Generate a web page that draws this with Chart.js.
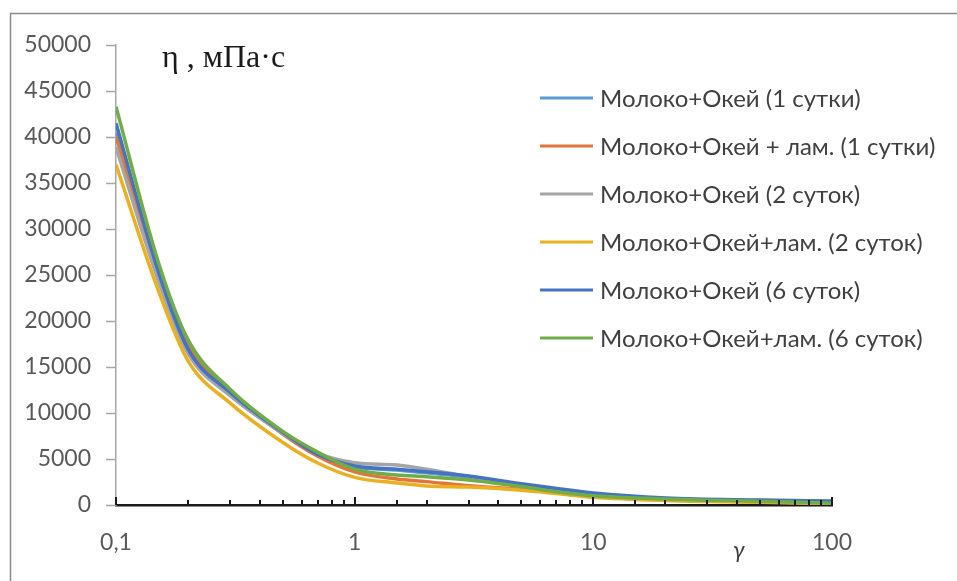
<!DOCTYPE html>
<html>
<head>
<meta charset="utf-8">
<script src="https://cdn.jsdelivr.net/npm/chart.js@4"></script>
<style>
  html, body { margin: 0; padding: 0; background: #fff; }
  #wrap { width: 957px; height: 581px; }
</style>
</head>
<body>
<div id="wrap"><canvas id="chart" width="957" height="581"></canvas></div>
<script>
// shear rate values (log axis)
const shearRates = [0.1, 0.15, 0.2, 0.3, 0.5, 0.7, 1, 1.5, 2, 3, 5, 7, 10, 20, 50, 100];

// viscosity, mPa·s
const okei1 = [40500, 25000, 16800, 12000, 7800, 5400, 4150, 3800, 3500, 3050, 2200, 1700, 1200, 700, 480, 350];
const okeiLam1 = [40000, 25500, 17500, 12400, 7700, 5300, 3600, 2830, 2540, 2100, 1700, 1300, 900, 550, 350, 200];
const okei2 = [38900, 24500, 16500, 11900, 7800, 5650, 4600, 4350, 3900, 3100, 2150, 1600, 1150, 650, 420, 280];
const okeiLam2 = [37000, 23400, 15700, 11100, 6800, 4560, 3000, 2390, 2070, 1950, 1600, 1250, 850, 500, 300, 150];
const okei6 = [41500, 25500, 17000, 12250, 7900, 5500, 4240, 3900, 3620, 3150, 2300, 1800, 1300, 760, 540, 430];
const okeiLam6 = [43300, 26500, 18000, 12600, 8000, 5750, 3900, 3260, 3080, 2720, 2000, 1450, 1000, 650, 400, 200];

const seriesLabels = [
  'Молоко+Окей (1 сутки)',
  'Молоко+Окей + лам. (1 сутки)',
  'Молоко+Окей (2 суток)',
  'Молоко+Окей+лам. (2 суток)',
  'Молоко+Окей (6 суток)',
  'Молоко+Окей+лам. (6 суток)'
];
const seriesValues = [okei1, okeiLam1, okei2, okeiLam2, okei6, okeiLam6];
const colors = ['#5B9BD5', '#E0763A', '#A5A5A5', '#EAB020', '#4472C4', '#70AD47'];

const yMax = 50000;
const yStep = 5000;

const FONT = 'Lato, "Liberation Sans", sans-serif';

// frame, legend, axis marks and labels not handled by chart.js
const extras = {
  id: 'extras',
  beforeDraw(chart) {
    const ctx = chart.ctx;
    ctx.save();
    ctx.strokeStyle = '#8c8c8c';
    ctx.lineWidth = 1.5;
    ctx.beginPath();
    ctx.moveTo(10.5, 600);
    ctx.lineTo(10.5, 13.5);
    ctx.lineTo(960, 13.5);
    ctx.stroke();
    ctx.restore();
  },
  afterDraw(chart) {
    const ctx = chart.ctx;
    const xs = chart.scales.x;
    const area = chart.chartArea;
    ctx.save();

    // x ticks pointing up into the plot
    ctx.strokeStyle = '#1a1a1a';
    ctx.lineWidth = 2;
    xs.ticks.forEach(t => {
      const px = Math.round(xs.getPixelForValue(t.value));
      const major = Math.abs(Math.log10(t.value) - Math.round(Math.log10(t.value))) < 1e-9;
      const len = major ? 8 : 5;
      ctx.beginPath();
      ctx.moveTo(px, area.bottom);
      ctx.lineTo(px, area.bottom - len);
      ctx.stroke();
    });

    // legend
    ctx.font = '24px ' + FONT;
    ctx.textBaseline = 'middle';
    ctx.fillStyle = '#404040';
    chart.data.datasets.forEach((ds, i) => {
      const y = 98 + i * 48;
      ctx.strokeStyle = ds.borderColor;
      ctx.lineWidth = 3;
      ctx.beginPath();
      ctx.moveTo(540, y);
      ctx.lineTo(593, y);
      ctx.stroke();
      ctx.fillText(ds.label, 600, y + 1);
    });

    // axis captions
    ctx.fillStyle = '#1a1a1a';
    ctx.textBaseline = 'alphabetic';
    ctx.font = '32px "Liberation Serif", serif';
    ctx.fillText('η , мПа·с', 162, 67);
    ctx.fillStyle = '#404040';
    ctx.font = 'italic 23px ' + FONT;
    ctx.fillText('γ', 733, 558);
    ctx.restore();
  }
};

const datasets = seriesValues.map((vals, i) => ({
  label: seriesLabels[i],
  data: shearRates.map((x, j) => ({ x: x, y: vals[j] })),
  borderColor: colors[i],
  backgroundColor: colors[i],
  borderWidth: 3.5,
  pointRadius: 0,
  fill: false,
  cubicInterpolationMode: 'monotone',
  order: seriesValues.length - i
}));

new Chart(document.getElementById('chart').getContext('2d'), {
  type: 'line',
  data: { datasets: datasets },
  plugins: [extras],
  options: {
    responsive: false,
    animation: false,
    layout: { padding: { top: 45, right: 125, left: 0, bottom: 0 } },
    plugins: {
      legend: { display: false },
      tooltip: { enabled: false }
    },
    scales: {
      x: {
        type: 'logarithmic',
        min: 0.1,
        max: 100,
        afterFit: s => { s.height = 76; },
        border: { display: true, color: '#1a1a1a', width: 2.5 },
        grid: { display: true, drawOnChartArea: false, drawTicks: false },
        ticks: {
          autoSkip: false,
          maxRotation: 0,
          padding: 24,
          color: '#595959',
          font: { family: FONT, size: 23 },
          callback: v => {
            const l = Math.log10(v);
            if (Math.abs(l - Math.round(l)) > 1e-9) return '';
            return String(v).replace('.', ',');
          }
        }
      },
      y: {
        min: 0,
        max: yMax,
        afterFit: s => { s.width = 116; },
        border: { display: true, color: '#a6a6a6', width: 1.5 },
        grid: { drawOnChartArea: false, drawTicks: true, tickLength: 10, tickColor: '#a6a6a6', tickWidth: 1.5 },
        ticks: {
          stepSize: yStep,
          padding: 15,
          color: '#595959',
          font: { family: FONT, size: 23 },
          callback: v => String(v)
        }
      }
    }
  }
});
</script>
</body>
</html>
